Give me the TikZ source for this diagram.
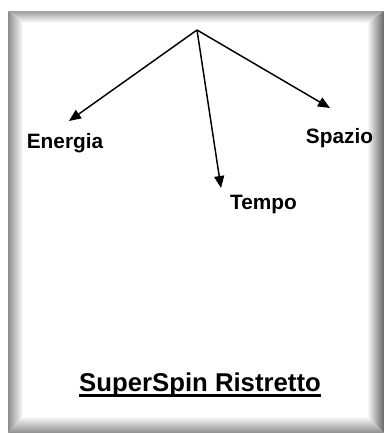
\documentclass[tikz,border=0pt]{standalone}
\usepackage{fontspec}
\setmainfont{Liberation Sans}
\usetikzlibrary{arrows.meta}
\begin{document}
\begin{tikzpicture}[x=0.75pt,y=-0.75pt,
  lbl/.style={inner sep=0pt,anchor=base,font=\fontsize{15.6pt}{18pt}\selectfont\bfseries},
  ttl/.style={inner sep=0pt,anchor=base,font=\fontsize{19.3pt}{22pt}\selectfont\bfseries},
  arr/.style={line width=1.1pt,-{Triangle[length=9pt,width=7.5pt]}}]
\fill[white] (0,0) rectangle (384,433);
\useasboundingbox (0,0) rectangle (384,433);
% bevelled frame
\shade[left color=black!45,right color=white] (8,11) -- (23,23) -- (23,416) -- (8,433) -- cycle;
\shade[top color=black!38,bottom color=white] (8,11) -- (384,11) -- (367,23) -- (23,23) -- cycle;
\shade[left color=white,right color=black!60] (384,11) -- (384,433) -- (367,416) -- (367,23) -- cycle;
\shade[top color=white,bottom color=black!45] (23,416) -- (367,416) -- (384,433) -- (8,433) -- cycle;
% diagram
\coordinate (top) at (197,30);
\coordinate (etip) at (69,121);
\coordinate (stip) at (330,108);
\coordinate (ttip) at (221,188);
\draw[arr] (top) -- (etip);
\draw[arr] (top) -- (stip);
\draw[arr] (top) -- (ttip);
\node[lbl] (energia) at (65,148) {Energia};
\node[lbl] (spazio) at (339.5,143) {Spazio};
\node[lbl] (tempo) at (263.5,209) {Tempo};
\node[ttl] (title) at (200,391) {SuperSpin Ristretto};
\draw[line width=2.2pt] ([yshift=-3.5pt]title.base west) -- ([yshift=-3.5pt]title.base east);
\end{tikzpicture}
\end{document}
